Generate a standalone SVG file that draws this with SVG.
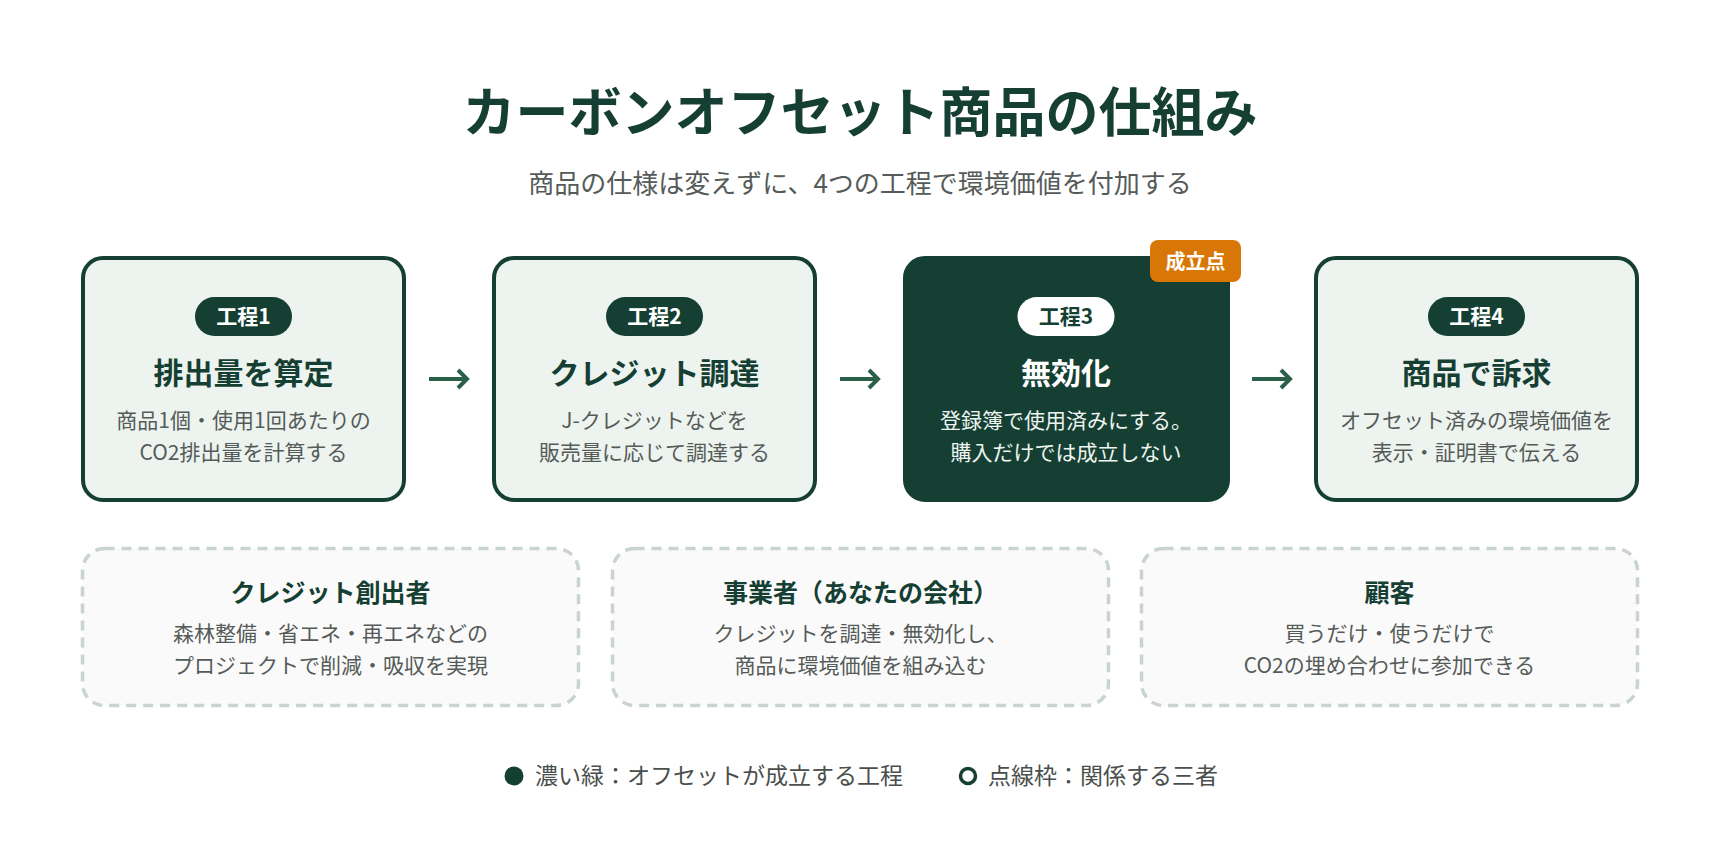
<svg xmlns="http://www.w3.org/2000/svg" width="1720" height="850" viewBox="0 0 1720 850">
<defs>
<style>
text{font-family:"Noto Sans CJK JP","Noto Sans",sans-serif;}
.ttl{font-size:53px;font-weight:700;fill:#153f33;text-anchor:middle;}
.sub{font-size:26px;fill:#555b58;text-anchor:middle;}
.step{fill:#edf3ef;stroke:#153f33;stroke-width:4;}
.stepDark{fill:#153f33;stroke:#153f33;stroke-width:4;}
.badge{fill:#153f33;}
.badgeTxt{font-size:21px;font-weight:700;fill:#ffffff;text-anchor:middle;}
.flagTxt{font-size:20px;font-weight:700;fill:#ffffff;text-anchor:middle;}
.h{font-size:30px;font-weight:700;fill:#153f33;text-anchor:middle;}
.d{font-size:21px;fill:#555b58;text-anchor:middle;}
.dW{font-size:21px;fill:#eef4f0;text-anchor:middle;}
.party{fill:#fafafa;stroke:#c9d3cf;stroke-width:3.5;stroke-dasharray:10 7;}
.ph{font-size:25px;font-weight:700;fill:#153f33;text-anchor:middle;}
.arrow{fill:none;stroke:#2a6049;stroke-width:4;stroke-linecap:butt;}
.lg{font-size:23px;fill:#4a4f4d;}
</style>
</defs>
<rect width="1720" height="850" fill="#ffffff"/>
<g id="header">
<text class="ttl" x="860" y="132">カーボンオフセット商品の仕組み</text>
<text class="sub" x="860" y="193">商品の仕様は変えずに、4つの工程で環境価値を付加する</text>
</g>
<g id="step1">
<rect class="step" x="83" y="258" width="321" height="242" rx="20"/>
<rect class="badge" x="195" y="297" width="97" height="39" rx="19.5"/>
<text class="badgeTxt" x="243.5" y="324">工程1</text>
<text class="h" x="243.5" y="384">排出量を算定</text>
<text class="d" x="243.5" y="428">商品1個・使用1回あたりの</text>
<text class="d" x="243.5" y="460">CO2排出量を計算する</text>
</g>
<g id="step2">
<rect class="step" x="494" y="258" width="321" height="242" rx="20"/>
<rect class="badge" x="606" y="297" width="97" height="39" rx="19.5"/>
<text class="badgeTxt" x="654.5" y="324">工程2</text>
<text class="h" x="654.5" y="384">クレジット調達</text>
<text class="d" x="654.5" y="428">J-クレジットなどを</text>
<text class="d" x="654.5" y="460">販売量に応じて調達する</text>
</g>
<g id="step3">
<rect class="stepDark" x="905" y="258" width="323" height="242" rx="20"/>
<rect fill="#ffffff" x="1017.5" y="297" width="97" height="39" rx="19.5"/>
<text class="badgeTxt" style="fill:#153f33" x="1066" y="324">工程3</text>
<text class="h" style="fill:#ffffff" x="1066" y="384">無効化</text>
<text class="dW" x="1066" y="428">登録簿で使用済みにする。</text>
<text class="dW" x="1066" y="460">購入だけでは成立しない</text>
</g>
<g id="flag">
<rect fill="#d97706" x="1150" y="240" width="91" height="42" rx="8"/>
<text class="flagTxt" x="1195.5" y="268.5">成立点</text>
</g>
<g id="step4">
<rect class="step" x="1316" y="258" width="321" height="242" rx="20"/>
<rect class="badge" x="1428" y="297" width="97" height="39" rx="19.5"/>
<text class="badgeTxt" x="1476.5" y="324">工程4</text>
<text class="h" x="1476.5" y="384">商品で訴求</text>
<text class="d" x="1476.5" y="428">オフセット済みの環境価値を</text>
<text class="d" x="1476.5" y="460">表示・証明書で伝える</text>
</g>
<g id="connectors">
<path class="arrow" d="M429 379 H467 M458 370 L467 379 L458 388"/>
<path class="arrow" d="M840 379 H878 M869 370 L878 379 L869 388"/>
<path class="arrow" d="M1252 379 H1290 M1281 370 L1290 379 L1281 388"/>
</g>
<g id="party1">
<rect class="party" x="82.5" y="548.5" width="496" height="157" rx="22"/>
<text class="ph" x="330.5" y="601.5">クレジット創出者</text>
<text class="d" x="330.5" y="640.5">森林整備・省エネ・再エネなどの</text>
<text class="d" x="330.5" y="672.5">プロジェクトで削減・吸収を実現</text>
</g>
<g id="party2">
<rect class="party" x="612.5" y="548.5" width="496" height="157" rx="22"/>
<text class="ph" x="860.5" y="601.5">事業者（あなたの会社）</text>
<text class="d" x="860.5" y="640.5">クレジットを調達・無効化し、</text>
<text class="d" x="860.5" y="672.5">商品に環境価値を組み込む</text>
</g>
<g id="party3">
<rect class="party" x="1141.5" y="548.5" width="496" height="157" rx="22"/>
<text class="ph" x="1389.5" y="601.5">顧客</text>
<text class="d" x="1389.5" y="640.5">買うだけ・使うだけで</text>
<text class="d" x="1389.5" y="672.5">CO2の埋め合わせに参加できる</text>
</g>
<g id="legend">
<circle cx="514" cy="776" r="9.5" fill="#153f33"/>
<text class="lg" x="535" y="784">濃い緑：オフセットが成立する工程</text>
<circle cx="968" cy="776" r="7.5" fill="#ffffff" stroke="#153f33" stroke-width="3.5"/>
<text class="lg" x="988" y="784">点線枠：関係する三者</text>
</g>
</svg>
